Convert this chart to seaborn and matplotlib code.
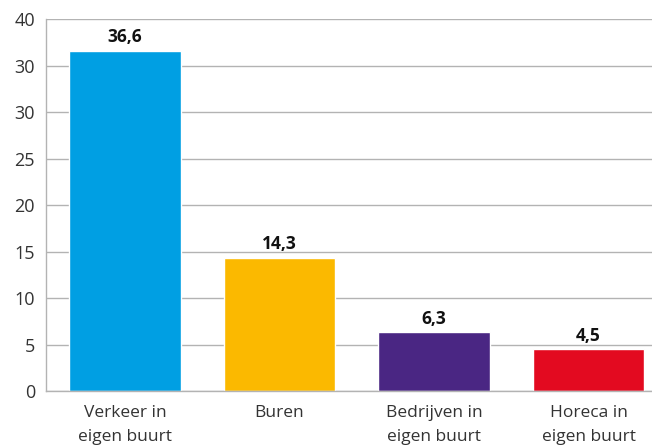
import matplotlib
matplotlib.use("Agg")
import matplotlib.pyplot as plt
import seaborn as sns
import pandas as pd

categories = ["Verkeer in\neigen buurt", "Buren", "Bedrijven in\neigen buurt", "Horeca in\neigen buurt"]
values = [36.6, 14.3, 6.3, 4.5]
value_labels = ["36,6", "14,3", "6,3", "4,5"]
colors = ["#009FE3", "#FBB900", "#4A2683", "#E30A20"]
y_ticks = [0, 5, 10, 15, 20, 25, 30, 35, 40]
y_tick_labels = ["0", "5", "10", "15", "20", "25", "30", "30", "40"]

sns.set_theme(style="white")
plt.rcParams["font.family"] = ["Open Sans", "DejaVu Sans"]

df = pd.DataFrame({"cat": categories, "val": values})

fig = plt.figure(figsize=(6.52, 4.46), dpi=100)
ax = fig.add_axes([0.0706, 0.1233, 0.9294, 0.8341])

sns.barplot(data=df, x="cat", y="val", hue="cat", palette=colors,
            width=0.72, legend=False, ax=ax, saturation=1)

ax.set_ylim(0, 40)
ax.set_xlim(-0.51, 3.41)
ax.set_yticks(y_ticks)
ax.set_yticklabels(y_tick_labels)
ax.set_xticks(range(len(categories)))
ax.set_xticklabels(categories, linespacing=1.65)
ax.yaxis.grid(True, color="#b3b3b3", linewidth=1)
ax.set_axisbelow(True)
ax.set_xlabel("")
ax.set_ylabel("")

for s in ["top", "right"]:
    ax.spines[s].set_visible(False)
for s in ["left", "bottom"]:
    ax.spines[s].set_color("#b3b3b3")
    ax.spines[s].set_linewidth(1)

ax.tick_params(axis="y", length=0, pad=8, labelsize=13, labelcolor="#333333")
ax.tick_params(axis="x", length=0, pad=10, labelsize=12.5, labelcolor="#333333")

for i, (v, lab) in enumerate(zip(values, value_labels)):
    ax.text(i, v + 0.5, lab, ha="center", va="bottom", fontsize=12.5,
            fontweight="bold", color="#111111")

fig.savefig("out.png", dpi=100)
